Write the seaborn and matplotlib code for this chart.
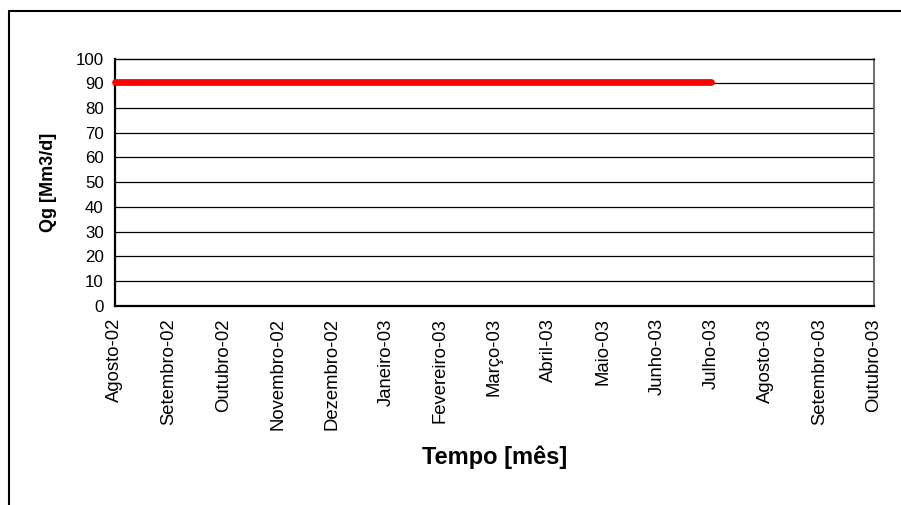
"""Vazão de gás Qg ao longo do tempo (mensal)."""
import matplotlib

matplotlib.use("Agg")

import matplotlib.pyplot as plt
import pandas as pd
import seaborn as sns
from matplotlib.lines import Line2D

# categorias do eixo x (meses)
months = [
    "Agosto-02", "Setembro-02", "Outubro-02", "Novembro-02", "Dezembro-02",
    "Janeiro-03", "Fevereiro-03", "Março-03", "Abril-03", "Maio-03",
    "Junho-03", "Julho-03", "Agosto-03", "Setembro-03", "Outubro-03",
]
# vazão de gás [Mm3/d], de Agosto-02 até Julho-03
qg_values = [90.6, 90.6, 90.6, 90.6, 90.6, 90.6, 90.6, 90.6, 90.6, 90.6, 90.6, 90.6]
y_ticks = [0, 10, 20, 30, 40, 50, 60, 70, 80, 90, 100]

sns.set_theme(style="white")
plt.rcParams["font.family"] = ["Liberation Sans", "DejaVu Sans"]
plt.rcParams["text.color"] = "black"
plt.rcParams["axes.labelcolor"] = "black"

df = pd.DataFrame({"mes": range(len(qg_values)), "qg": qg_values})

fig = plt.figure(figsize=(9.01, 5.05), dpi=100)
ax = fig.add_axes([0.1276, 0.3947, 0.8424, 0.4891])

for val in y_ticks[1:-1]:
    ax.axhline(val, color="black", lw=0.9, zorder=1)

sns.lineplot(data=df, x="mes", y="qg", ax=ax, color="#FF0000", lw=4.9,
             solid_capstyle="round", zorder=3, clip_on=False)

ax.set_xlim(0, len(months) - 1)
ax.set_ylim(0, 100)
ax.set_xticks(range(len(months)))
ax.set_xticklabels(months, rotation=90, fontsize=13.3)
ax.set_yticks(y_ticks)
ax.set_yticklabels([str(v) for v in y_ticks], fontsize=12.2)
ax.tick_params(axis="both", direction="out", length=5, width=1, color="#404040",
               pad=3, labelcolor="black")
ax.tick_params(axis="x", pad=4)

for side in ("left", "bottom"):
    ax.spines[side].set_color("black")
    ax.spines[side].set_linewidth(1.6)
ax.spines["top"].set_color("black")
ax.spines["top"].set_linewidth(1.0)
ax.spines["right"].set_color("#606060")
ax.spines["right"].set_linewidth(1.3)

ax.set_xlabel("Tempo [mês]", fontsize=17, fontweight="bold", color="black")
ax.xaxis.label.set_va("center")
ax.xaxis.set_label_coords(0.5, -0.6125)
ax.set_ylabel("Qg [Mm3/d]", fontsize=13, fontweight="bold", color="black")
ax.yaxis.label.set_va("center")
ax.yaxis.set_label_coords(-0.088, 0.5)

# moldura do gráfico (esquerda e topo)
fig.add_artist(Line2D([8.5 / 901, 8.5 / 901], [0, 1 - 11 / 505], color="black",
                      lw=1.5, transform=fig.transFigure))
fig.add_artist(Line2D([8.5 / 901, 1], [1 - 11 / 505, 1 - 11 / 505], color="black",
                      lw=1.5, transform=fig.transFigure))

fig.savefig("out.png", dpi=100)
